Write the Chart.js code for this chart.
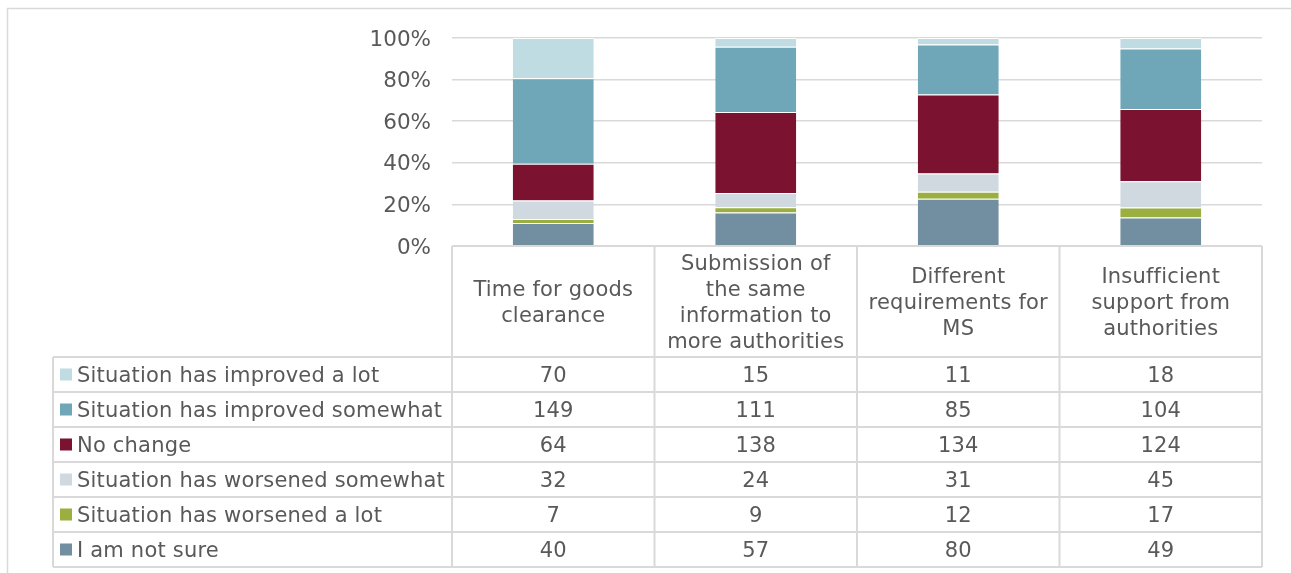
<!DOCTYPE html>
<html>
<head>
<meta charset="utf-8">
<script src="https://cdn.jsdelivr.net/npm/chart.js@4"></script>
<style>
  html, body { margin: 0; padding: 0; background: #fff; }
  #wrap { width: 1291px; height: 573px; }
</style>
</head>
<body>
<div id="wrap"><canvas id="myChart" width="1291" height="573"></canvas></div>
<script>
// categories (table header)
const categories = [
  ['Time for goods', 'clearance'],
  ['Submission of', 'the same', 'information to', 'more authorities'],
  ['Different', 'requirements for', 'MS'],
  ['Insufficient', 'support from', 'authorities']
];

// series, in table order (top row first)
const seriesNames = [
  'Situation has improved a lot',
  'Situation has improved somewhat',
  'No change',
  'Situation has worsened somewhat',
  'Situation has worsened a lot',
  'I am not sure'
];
const improvedLot = [70, 15, 11, 18];
const improvedSome = [149, 111, 85, 104];
const noChange = [64, 138, 134, 124];
const worsenedSome = [32, 24, 31, 45];
const worsenedLot = [7, 9, 12, 17];
const notSure = [40, 57, 80, 49];
const seriesValues = [improvedLot, improvedSome, noChange, worsenedSome, worsenedLot, notSure];
const seriesColors = ['#bfdce3', '#6fa7b9', '#7b1230', '#d0d9e0', '#9aaf3f', '#718fa1'];

const yTicks = [0, 20, 40, 60, 80, 100];

const FONT = '"DejaVu Sans", Verdana, sans-serif';
const TEXT = '#595959';
const LINE = '#d9d9d9';

// totals per category -> percentage stack
const totals = categories.map((c, i) => seriesValues.reduce((s, arr) => s + arr[i], 0));

// bottom of the stack first
const datasets = [];
for (let k = seriesNames.length - 1; k >= 0; k--) {
  datasets.push({
    label: seriesNames[k],
    data: seriesValues[k].map((v, i) => v / totals[i] * 100),
    backgroundColor: seriesColors[k],
    borderColor: '#ffffff',
    borderWidth: { top: 1, left: 0, right: 0, bottom: 0 },
    borderSkipped: false,
    barPercentage: 0.4,
    categoryPercentage: 1
  });
}

const tablePlugin = {
  id: 'dataTable',
  afterDraw(chart) {
    const ctx = chart.ctx;
    const x = chart.scales.x;
    const area = chart.chartArea;
    const headerTop = area.bottom;
    const headerH = 111;
    const rowH = 35;
    const leftX = 53;
    const n = categories.length;
    const band = (x.right - x.left) / n;
    const rowsTop = headerTop + headerH;
    const tableBottom = rowsTop + rowH * seriesNames.length;

    ctx.save();
    // outer frame
    ctx.strokeStyle = LINE;
    ctx.lineWidth = 1.5;
    ctx.beginPath();
    ctx.moveTo(7.5, 573);
    ctx.lineTo(7.5, 8.5);
    ctx.lineTo(1291, 8.5);
    ctx.stroke();

    // table lines
    ctx.lineWidth = 2;
    ctx.beginPath();
    ctx.moveTo(x.left, headerTop);
    ctx.lineTo(x.right, headerTop);
    for (let r = 0; r <= seriesNames.length; r++) {
      const yy = rowsTop + r * rowH;
      ctx.moveTo(leftX, yy);
      ctx.lineTo(x.right, yy);
    }
    ctx.moveTo(leftX, rowsTop);
    ctx.lineTo(leftX, tableBottom);
    for (let c = 0; c <= n; c++) {
      const xx = x.left + c * band;
      ctx.moveTo(xx, headerTop);
      ctx.lineTo(xx, tableBottom);
    }
    ctx.stroke();

    // header labels
    ctx.fillStyle = TEXT;
    ctx.font = '21px ' + FONT;
    ctx.letterSpacing = '0.2px';
    ctx.textAlign = 'center';
    ctx.textBaseline = 'middle';
    const lh = 25.7;
    categories.forEach((lines, i) => {
      const cx = x.getPixelForValue(i);
      const cy = headerTop + headerH / 2 + 2;
      const start = cy - (lines.length - 1) * lh / 2;
      lines.forEach((t, j) => ctx.fillText(t, cx, start + j * lh));
    });

    // rows: legend key, name, values
    seriesNames.forEach((name, r) => {
      const cy = rowsTop + r * rowH + rowH / 2;
      ctx.fillStyle = seriesColors[r];
      ctx.fillRect(60, cy - 6, 12, 12);
      ctx.fillStyle = TEXT;
      ctx.textAlign = 'left';
      ctx.fillText(name, 77, cy + 2);
      ctx.textAlign = 'center';
      seriesValues[r].forEach((v, i) => {
        ctx.fillText(String(v), x.getPixelForValue(i), cy + 2);
      });
    });
    ctx.restore();
  }
};

new Chart(document.getElementById('myChart'), {
  type: 'bar',
  data: {
    labels: categories.map(l => l.join(' ')),
    datasets: datasets
  },
  options: {
    responsive: false,
    animation: false,
    layout: {
      padding: { top: 38, right: 29, bottom: 327, left: 0 }
    },
    plugins: {
      legend: { display: false },
      tooltip: { enabled: false }
    },
    scales: {
      x: {
        stacked: true,
        display: false
      },
      y: {
        stacked: true,
        min: 0,
        max: 100,
        afterFit(scale) { scale.width = 452; },
        afterBuildTicks(scale) { scale.ticks = yTicks.map(v => ({ value: v })); },
        border: { display: false },
        grid: { color: LINE, lineWidth: 1.5, drawTicks: false },
        ticks: {
          padding: 21,
          labelOffset: 2,
          color: TEXT,
          font: { family: FONT, size: 21.5 },
          callback: v => v + '%'
        }
      }
    }
  },
  plugins: [tablePlugin]
});
</script>
</body>
</html>
